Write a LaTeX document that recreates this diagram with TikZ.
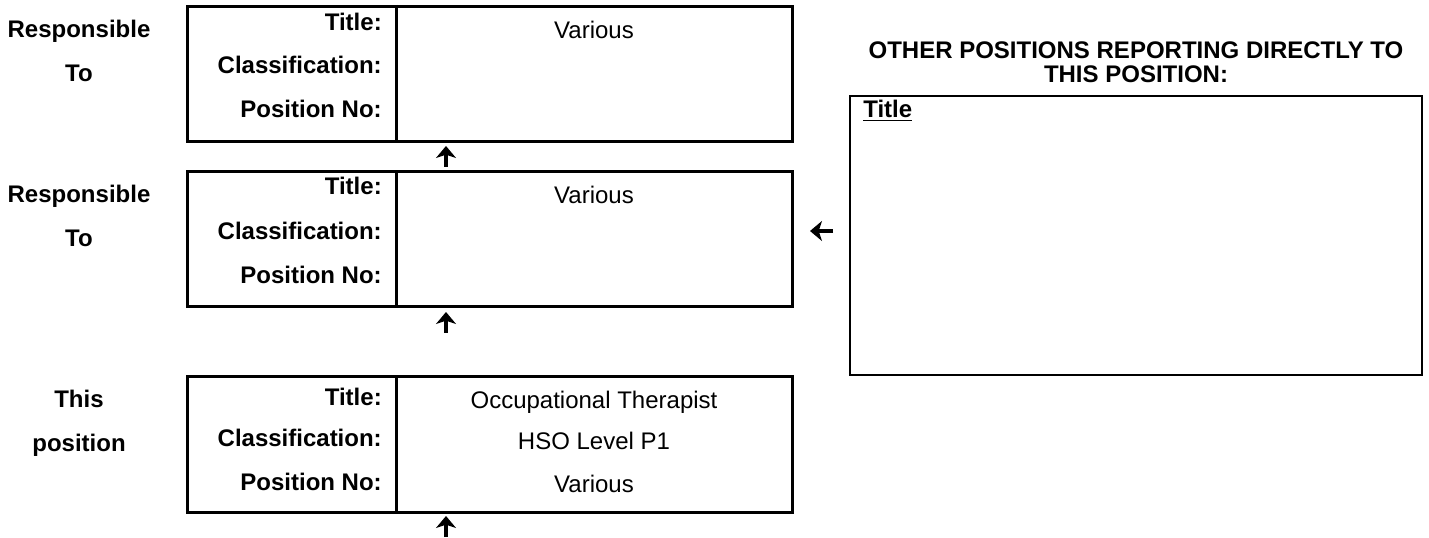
\documentclass[tikz,border=0pt]{standalone}
\usepackage{fontspec}
\setmainfont{Liberation Sans}
\usetikzlibrary{arrows.meta}

\begin{document}
\begin{tikzpicture}[x=0.75pt, y=-0.75pt,
  every node/.style={inner sep=0pt, font=\fontsize{18}{22}\selectfont},
  box/.style={draw, line width=2.25pt, minimum width=453.75pt, minimum height=101.25pt},
  lbl/.style={anchor=base east, font=\fontsize{18}{22}\selectfont\bfseries},
  val/.style={anchor=base},
  side/.style={anchor=base, font=\fontsize{18}{22}\selectfont\bfseries},
  reportarrow/.style={line width=3.4pt, -{Stealth[length=9pt, width=15pt, inset=2.5pt]}}]
  \useasboundingbox (0,0) rectangle (1429,538);

  % Boxes
  \node[box] (box1) at (489.5,74) {};
  \node[box] (box2) at (489.5,239.5) {};
  \node[box] (box3) at (489.5,444.5) {};
  \coordinate (div) at (396,0);
  \draw[line width=2.25pt] (box1.north -| div) -- (box1.south -| div);
  \draw[line width=2.25pt] (box2.north -| div) -- (box2.south -| div);
  \draw[line width=2.25pt] (box3.north -| div) -- (box3.south -| div);

  % Left labels
  \node[side] (resp1) at (79,38) {Responsible};
  \node[side] (to1) at (79,82) {To};
  \node[side] (resp2) at (79,203) {Responsible};
  \node[side] (to2) at (79,247) {To};
  \node[side] (this) at (79,407) {This};
  \node[side] (position) at (79,451) {position};

  % First box
  \node[lbl] (title1) at (382,31) {Title:};
  \node[lbl] (class1) at (382,74) {Classification:};
  \node[lbl] (posno1) at (382,118) {Position No:};
  \node[val] (value1) at (594,39) {Various};

  % Second box
  \node[lbl] (title2) at (382,195) {Title:};
  \node[lbl] (class2) at (382,240) {Classification:};
  \node[lbl] (posno2) at (382,284) {Position No:};
  \node[val] (value2) at (594,204) {Various};

  % This position
  \node[lbl] (title3) at (382,406) {Title:};
  \node[lbl] (class3) at (382,446) {Classification:};
  \node[lbl] (posno3) at (382,490) {Position No:};
  \node[val] (value3a) at (594,409) {Occupational Therapist};
  \node[val] (value3b) at (594,450) {HSO Level P1};
  \node[val] (value3c) at (594,492) {Various};

  % Other positions
  \node[side] (head1) at (1136,59) {OTHER POSITIONS REPORTING DIRECTLY TO};
  \node[side] (head2) at (1136,83) {THIS POSITION:};
  \node[draw, line width=2pt, minimum width=429pt, minimum height=209.25pt] (others) at (1136,235.5) {};
  \node[anchor=base west, font=\fontsize{18}{22}\selectfont\bfseries] (otitle) at (863,118) {\underline{Title}};

  % Arrows
  \coordinate (up1a) at (446,167);
  \coordinate (up1b) at (446,146);
  \coordinate (up2a) at (446,333);
  \coordinate (up2b) at (446,312);
  \coordinate (up3a) at (446,537);
  \coordinate (up3b) at (446,516);
  \coordinate (lefta) at (833,231);
  \coordinate (leftb) at (810,231);
  \draw[reportarrow] (up1a) -- (up1b);
  \draw[reportarrow] (up2a) -- (up2b);
  \draw[reportarrow] (up3a) -- (up3b);
  \draw[reportarrow] (lefta) -- (leftb);
\end{tikzpicture}
\end{document}
